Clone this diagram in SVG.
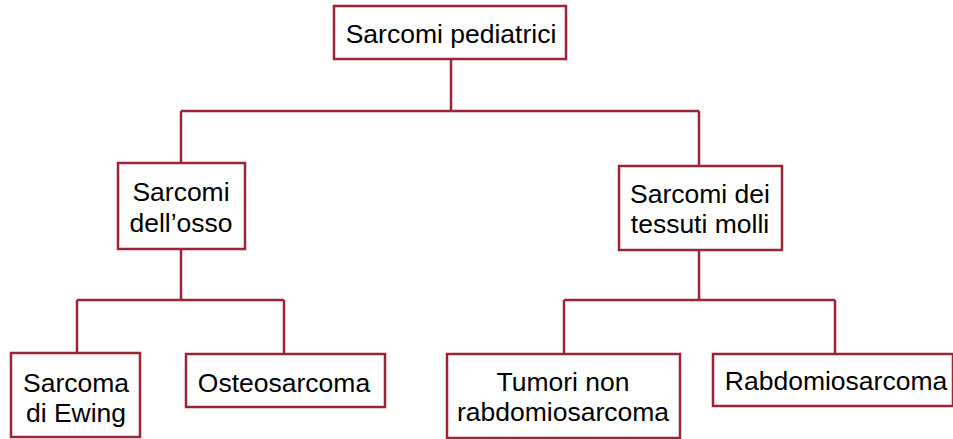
<svg xmlns="http://www.w3.org/2000/svg" width="953" height="439" viewBox="0 0 953 439">
<style>
.box{fill:#fff;stroke:#9B2437;stroke-width:2.5}
.c{fill:none;stroke:#9B2437;stroke-width:2.5}
text{font-family:"Liberation Sans",Arial,sans-serif;font-size:26.5px;fill:#000;text-anchor:middle}
</style>
<rect width="953" height="439" fill="#fff"/>
<g id="connectors">
<path class="c" d="M451 59V111M181 111H699M181 111V163M699 111V166"/>
<path class="c" d="M181 249V300M77 300H284M77 300V353M284 300V354"/>
<path class="c" d="M699 250V300M564 300H835M564 300V354M835 300V354"/>
</g>
<g id="n-root"><rect class="box" x="334" y="6" width="232" height="53"/><text x="451" y="43">Sarcomi pediatrici</text></g>
<g id="n-osso"><rect class="box" x="118" y="163" width="127" height="86"/><text x="181" y="201">Sarcomi</text><text x="181" y="232">dell’osso</text></g>
<g id="n-molli"><rect class="box" x="619" y="166" width="163" height="84"/><text x="700" y="203">Sarcomi dei</text><text x="700" y="233">tessuti molli</text></g>
<g id="n-ewing"><rect class="box" x="11" y="353" width="129" height="84"/><text x="76" y="392">Sarcoma</text><text x="76" y="422">di Ewing</text></g>
<g id="n-osteo"><rect class="box" x="186" y="354" width="199" height="53"/><text x="284" y="392">Osteosarcoma</text></g>
<g id="n-tumori"><rect class="box" x="447" y="354" width="233" height="84"/><text x="563" y="391">Tumori non</text><text x="563" y="421">rabdomiosarcoma</text></g>
<g id="n-rabdo"><rect class="box" x="713" y="354" width="240" height="52"/><text x="836" y="390">Rabdomiosarcoma</text></g>
</svg>
